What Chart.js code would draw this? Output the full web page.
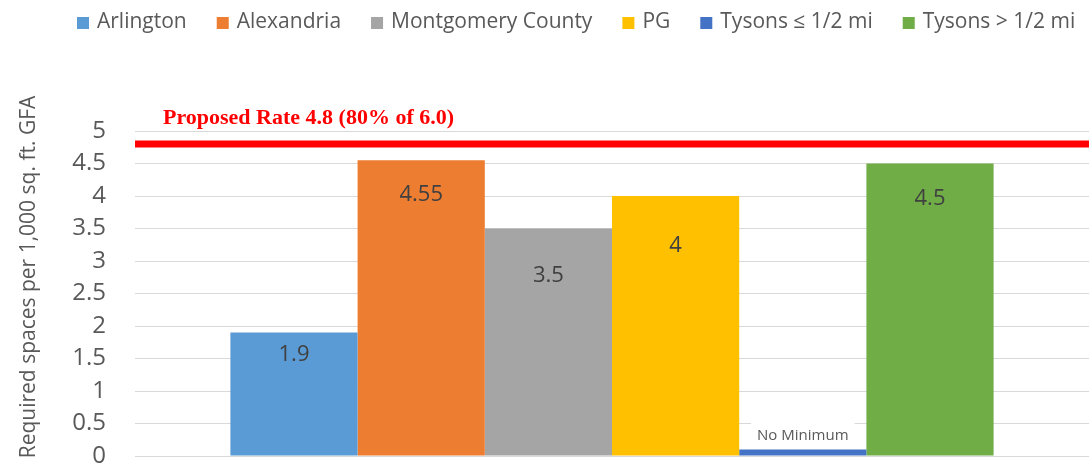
<!DOCTYPE html>
<html>
<head>
<meta charset="utf-8">
<script src="https://cdn.jsdelivr.net/npm/chart.js@4.4.0/dist/chart.umd.min.js"></script>
<style>
  html, body { margin: 0; padding: 0; background: #fff; }
  #chart-parking { display: block; }
</style>
</head>
<body>
<canvas id="chart-parking" width="1091" height="464"></canvas>
<script>
let jurisdictions = [
  "Arlington",
  "Alexandria",
  "Montgomery County",
  "PG",
  "Tysons ≤ 1/2 mi",
  "Tysons > 1/2 mi",
];
let requiredSpaces = [1.9, 4.55, 3.5, 4, 0.1, 4.5];
let valueLabels = ["1.9", "4.55", "3.5", "4", "No Minimum", "4.5"];
let barColors = ["#5b9bd5", "#ed7d31", "#a5a5a5", "#ffc000", "#4472c4", "#70ad47"];

let proposedRate = 4.8;
let proposedLabel = "Proposed Rate 4.8 (80% of 6.0)";

let yMin = 0;
let yMax = 5;
let yStep = 0.5;
let yTitle = "Required spaces per 1,000 sq. ft. GFA";

// how far below each bar top its label sits (negative = above the bar)
let labelOffsets = [22, 34, 47, 50, -14, 35];

Chart.defaults.font.family = "'Open Sans', sans-serif";

let proposedLine = {
  id: "proposedLine",
  afterDatasetsDraw: function (chart) {
    let ctx = chart.ctx;
    let area = chart.chartArea;
    let y = chart.scales.y.getPixelForValue(proposedRate);
    ctx.save();
    ctx.strokeStyle = "#ff0000";
    ctx.lineWidth = 7;
    ctx.beginPath();
    ctx.moveTo(area.left, y);
    ctx.lineTo(area.right, y);
    ctx.stroke();
    ctx.fillStyle = "#ff0000";
    ctx.font = "bold 22px 'Liberation Serif', 'Times New Roman', serif";
    ctx.textAlign = "left";
    ctx.textBaseline = "alphabetic";
    ctx.fillText(proposedLabel, area.left + 28, y - 20);
    ctx.restore();
  },
};

let barLabels = {
  id: "barLabels",
  afterDatasetsDraw: function (chart) {
    let ctx = chart.ctx;
    ctx.save();
    ctx.textAlign = "center";
    ctx.textBaseline = "middle";
    chart.data.datasets.forEach(function (ds, i) {
      let bar = chart.getDatasetMeta(i).data[0];
      let text = valueLabels[i];
      let y = bar.y + labelOffsets[i];
      if (labelOffsets[i] < 0) {
        ctx.font = "15px 'Open Sans', sans-serif";
        let w = ctx.measureText(text).width;
        ctx.fillStyle = "#ffffff";
        ctx.fillRect(bar.x - w / 2 - 6, y - 14, w + 12, 26);
        ctx.fillStyle = "#595959";
      } else {
        ctx.font = "22px 'Open Sans', sans-serif";
        ctx.fillStyle = "#404040";
      }
      ctx.fillText(text, bar.x, y);
    });
    ctx.restore();
  },
};

// legend row across the top and the rotated y-axis title
let decorations = {
  id: "decorations",
  afterDraw: function (chart) {
    let ctx = chart.ctx;
    ctx.save();
    ctx.font = "21px 'Open Sans', sans-serif";
    ctx.textBaseline = "middle";
    ctx.textAlign = "left";
    let x = 77;
    chart.data.datasets.forEach(function (ds) {
      ctx.fillStyle = ds.backgroundColor;
      ctx.fillRect(x, 17, 12, 12);
      ctx.fillStyle = "#595959";
      ctx.fillText(ds.label, x + 20, 22);
      x += 20 + ctx.measureText(ds.label).width + 30;
    });

    ctx.translate(35, 277);
    ctx.rotate(-Math.PI / 2);
    ctx.font = "21px 'Open Sans', sans-serif";
    ctx.textAlign = "center";
    ctx.textBaseline = "alphabetic";
    ctx.fillStyle = "#595959";
    ctx.fillText(yTitle, 0, 0);
    ctx.restore();
  },
};

let chartDraw = function () {
  let ctx = document.getElementById("chart-parking").getContext("2d");

  let datasets = jurisdictions.map(function (name, i) {
    return {
      label: name,
      data: [requiredSpaces[i]],
      backgroundColor: barColors[i],
      borderWidth: 0,
      categoryPercentage: 0.8,
      barPercentage: 1.0,
    };
  });

  new Chart(ctx, {
    type: "bar",
    data: {
      labels: [""],
      datasets: datasets,
    },
    options: {
      responsive: false,
      animation: false,
      layout: {
        padding: { top: 131, right: 2, bottom: 8, left: 0 },
      },
      plugins: {
        legend: { display: false },
        tooltip: { enabled: false },
      },
      scales: {
        x: { display: false },
        y: {
          min: yMin,
          max: yMax,
          border: { display: false },
          grid: { color: "#d9d9d9", lineWidth: 1, drawTicks: false },
          ticks: {
            stepSize: yStep,
            padding: 29,
            color: "#595959",
            font: { size: 24 },
            callback: function (v) {
              return String(v);
            },
          },
          afterFit: function (scale) {
            scale.width = 135;
            scale.paddingTop = 0;
            scale.paddingBottom = 0;
          },
        },
      },
    },
    plugins: [proposedLine, barLabels, decorations],
  });
};

window.onload = function () {
  chartDraw();
};
</script>
</body>
</html>
